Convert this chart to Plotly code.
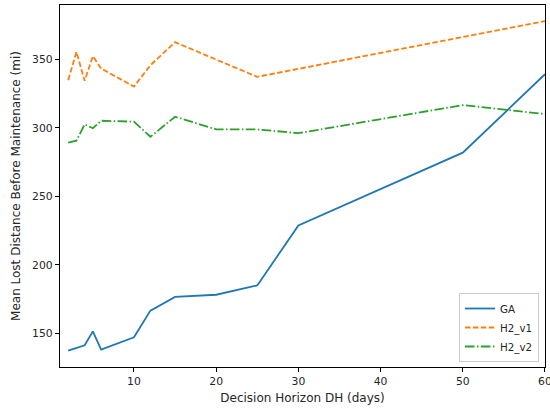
import plotly.graph_objects as go

dh_days = [2, 3, 4, 5, 6, 10, 12, 15, 20, 25, 30, 50, 60]
ga = [137.5, 139.4, 141.3, 151.5, 138.2, 147.2, 166.6, 176.6, 178.2, 185.0, 228.7, 281.8, 339.0]
h2_v1 = [334.7, 355.3, 334.2, 352.2, 343.2, 330.0, 345.6, 362.4, 349.7, 337.1, 342.9, 366.2, 377.7]
h2_v2 = [289.1, 290.5, 302.5, 299.6, 305.1, 304.4, 293.4, 308.0, 298.8, 298.8, 296.0, 316.5, 310.0]

x_ticks = [10, 20, 30, 40, 50, 60]
y_ticks = [150, 200, 250, 300, 350]

fig = go.Figure()
fig.add_trace(go.Scatter(x=dh_days, y=ga, mode="lines", name="GA",
                         line=dict(color="#1f77b4", width=1.8)))
fig.add_trace(go.Scatter(x=dh_days, y=h2_v1, mode="lines", name="H2_v1",
                         line=dict(color="#ff7f0e", width=1.8, dash="5.5px,2.4px")))
fig.add_trace(go.Scatter(x=dh_days, y=h2_v2, mode="lines", name="H2_v2",
                         line=dict(color="#2ca02c", width=1.8, dash="9.6px,2.4px,1.5px,2.4px")))

font = dict(family="DejaVu Sans", size=10.3, color="#262626")
tickfont = dict(family="DejaVu Sans", size=10.8, color="#262626")
fig.update_layout(
    width=550, height=409,
    margin=dict(l=60, r=5, t=5, b=42),
    paper_bgcolor="white", plot_bgcolor="white",
    font=font,
    showlegend=True,
    legend=dict(x=0.9876, y=0.0138, xanchor="right", yanchor="bottom",
                bgcolor="rgba(255,255,255,0.8)", bordercolor="#cccccc", borderwidth=1,
                font=font, tracegroupgap=0, itemwidth=30),
)
fig.update_xaxes(range=[1, 60.001], tickvals=x_ticks, ticks="outside", ticklen=4.2, tickcolor="black",
                 tickfont=tickfont, ticklabeloverflow="allow",
                 showline=True, linecolor="black", linewidth=1, mirror=True, showgrid=False,
                 zeroline=False, automargin=False,
                 title=dict(text="Decision Horizon DH (days)", standoff=6))
fig.update_yaxes(range=[125.5, 389.5], tickvals=y_ticks, ticks="outside", ticklen=4.2, tickcolor="black",
                 tickfont=tickfont,
                 showline=True, linecolor="black", linewidth=1, mirror=True, showgrid=False,
                 zeroline=False, automargin=False,
                 title=dict(text="Mean Lost Distance Before Maintenance (mi)", standoff=8))

fig.write_html("out.html", config={"displayModeBar": False},
               post_script="document.body.style.margin='0';document.body.style.overflow='hidden';")
